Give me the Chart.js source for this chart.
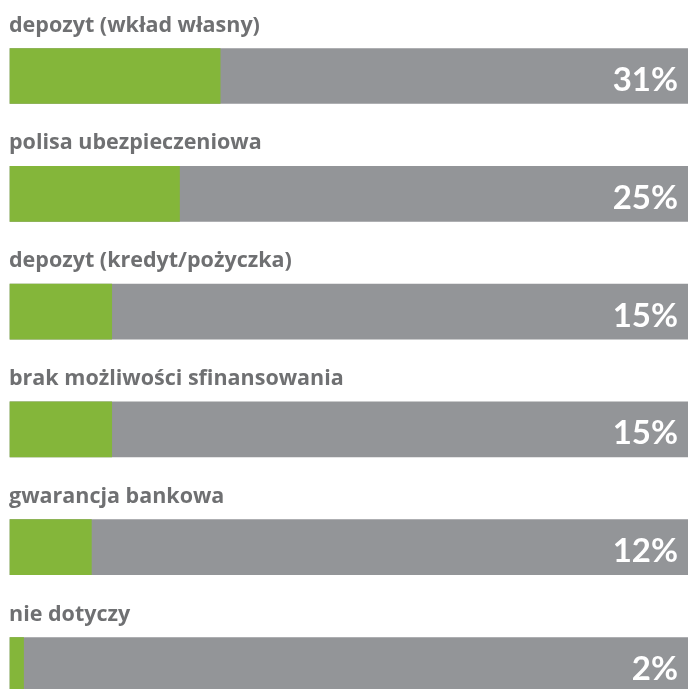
<!DOCTYPE html>
<html>
<head>
<meta charset="utf-8">
<script src="https://cdn.jsdelivr.net/npm/chart.js@4/dist/chart.umd.min.js"></script>
<style>
  html, body { margin: 0; padding: 0; background: #fff; }
  #wrap { width: 688px; height: 689px; }
</style>
</head>
<body>
<div id="wrap"><canvas id="myChart"></canvas></div>
<script>
var categories = ['depozyt (wkład własny)', 'polisa ubezpieczeniowa', 'depozyt (kredyt/pożyczka)',
                  'brak możliwości sfinansowania', 'gwarancja bankowa', 'nie dotyczy'];
var values = [31, 25, 15, 15, 12, 2];
var track = [100, 100, 100, 100, 100, 100];

var ctx = document.getElementById('myChart').getContext('2d');

// labels above bars + percentage inside the grey track
var labelPlugin = {
    id: 'barLabels',
    afterDatasetsDraw: function(chart) {
        var c = chart.ctx;
        var meta = chart.getDatasetMeta(1);
        c.save();
        meta.data.forEach(function(bar, i) {
            var top = bar.y - bar.height / 2;
            c.fillStyle = '#6f7072';
            c.font = 'bold 21.5px "Open Sans"';
            c.textAlign = 'left';
            c.textBaseline = 'alphabetic';
            c.fillText(categories[i], 9, top - 17);

            c.fillStyle = '#ffffff';
            c.font = 'bold 33px Lato';
            c.textAlign = 'right';
            c.fillText(values[i] + '%', 678, bar.y + 15);
        });
        c.restore();
    }
};

var chart = new Chart(ctx, {
    type: 'bar',
    data: {
        labels: categories,
        datasets: [{
            data: values,
            backgroundColor: '#84b63a',
            barThickness: 55,
            grouped: false,
            order: 1,
            clip: false
        }, {
            data: track,
            backgroundColor: '#939598',
            barThickness: 55,
            grouped: false,
            order: 2,
            clip: false
        }]
    },
    options: {
        indexAxis: 'y',
        responsive: true,
        maintainAspectRatio: false,
        animation: false,
        layout: { padding: { top: 76, bottom: 24, left: 10, right: 0 } },
        scales: {
            x: { display: false, min: 0, max: 100 },
            y: { display: false, offset: false }
        },
        plugins: {
            legend: { display: false },
            tooltip: { enabled: false }
        }
    },
    plugins: [labelPlugin]
});
</script>
</body>
</html>
